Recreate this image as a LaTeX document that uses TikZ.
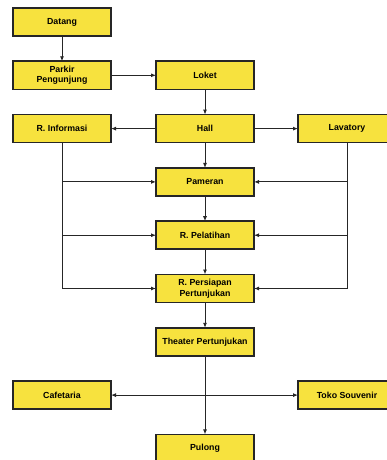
\documentclass[tikz,border=0pt]{standalone}
\usepackage{fontspec}
\setmainfont{Liberation Sans}
\usetikzlibrary{arrows.meta,positioning}
\definecolor{denahYellow}{RGB}{247,226,62}
\definecolor{denahLine}{RGB}{38,38,38}
\colorlet{kuning}{denahYellow}

\begin{document}
\begin{tikzpicture}[>={Latex[length=5pt,width=4pt]},line width=0.9pt,draw=denahLine,node distance=25.3pt,
  ruang/.style={draw=denahLine,line width=1.6pt,fill=kuning,minimum width=98pt,minimum height=28pt,inner sep=1pt,outer sep=0pt,align=center,font=\fontsize{8.8}{10.5}\selectfont\bfseries}]
\useasboundingbox (0,0) rectangle (387pt,-460pt);
\clip (0,0) rectangle (387pt,-460pt);
\node[ruang] (datang) at (62pt,-22pt) {Datang};
\node[ruang,below=of datang] (parkir) {Parkir\\Pengunjung};
\node[ruang,right=45pt of parkir] (loket) {Loket};
\node[ruang,below=of loket] (hall) {Hall};
\node[ruang,left=45pt of hall] (info) {R. Informasi};
\node[ruang,right=44pt of hall] (lavatory) {Lavatory};
\node[ruang,below=of hall] (pameran) {Pameran};
\node[ruang,below=of pameran] (pelatihan) {R. Pelatihan};
\node[ruang,below=of pelatihan] (persiapan) {R. Persiapan\\Pertunjukan};
\node[ruang,below=of persiapan] (theater) {Theater Pertunjukan};
\node[ruang,below left=25.3pt and 45pt of theater] (cafetaria) {Cafetaria};
\node[ruang,below right=25.3pt and 44pt of theater] (toko) {Toko Souvenir};
\node[ruang,below=78.6pt of theater] (pulong) {Pulong};
\draw[->] (datang) -- (parkir);
\draw[->] (parkir) -- (loket);
\draw[->] (loket) -- (hall);
\draw[->] (hall) -- (info);
\draw[->] (hall) -- (lavatory);
\draw[->] (hall) -- (pameran);
\draw[->] (pameran) -- (pelatihan);
\draw[->] (pelatihan) -- (persiapan);
\draw[->] (persiapan) -- (theater);
\draw[->] (theater) -- (pulong);
\draw[<->] (cafetaria) -- (toko);
\draw[->] (info) |- (pameran);
\draw[->] (info) |- (pelatihan);
\draw[->] (info) |- (persiapan);
\draw[->] (lavatory) |- (pameran);
\draw[->] (lavatory) |- (pelatihan);
\draw[->] (lavatory) |- (persiapan);
\end{tikzpicture}
\end{document}
